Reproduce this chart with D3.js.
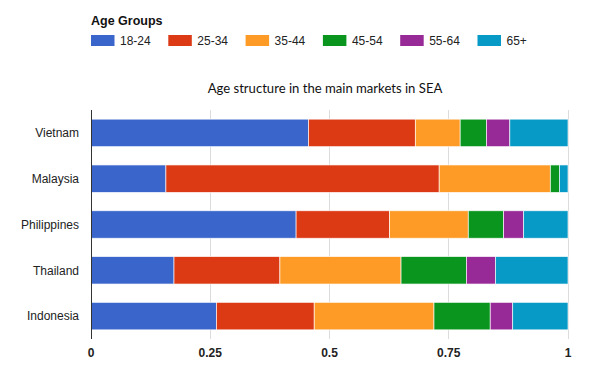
<!DOCTYPE html>
<html><head><meta charset="utf-8">
<script src="https://cdn.jsdelivr.net/npm/d3@7"></script>
<style>body{margin:0;background:#fff}svg{display:block}</style>
</head><body><svg id="c" width="600" height="378"></svg>
<script>
const countries = ["Vietnam","Malaysia","Philippines","Thailand","Indonesia"];
const groups = ["18-24","25-34","35-44","45-54","55-64","65+"];
const colors = ["#3a66cb","#dc3915","#fd9b26","#0a961e","#982a98","#079ac6"];
const v1824 = [0.456,0.157,0.430,0.174,0.263];
const v2534 = [0.224,0.573,0.196,0.222,0.205];
const v3544 = [0.094,0.233,0.165,0.254,0.251];
const v4554 = [0.055,0.019,0.074,0.137,0.118];
const v5564 = [0.049,0.000,0.042,0.061,0.047];
const v65   = [0.122,0.018,0.093,0.152,0.116];
const ticks = [0,0.25,0.5,0.75,1];
const tickLabels = ["0","0.25","0.5","0.75","1"];
const title = "Age structure in the main markets in SEA";
const legendTitle = "Age Groups";

const series = [v1824,v2534,v3544,v4554,v5564,v65];
const rows = countries.map((c,i)=>{const o={country:c};groups.forEach((g,j)=>o[g]=series[j][i]);return o;});
const stacked = d3.stack().keys(groups)(rows);

const svg = d3.select("#c");
const x = d3.scaleLinear().domain([0,1]).range([91,568]);
const y = d3.scaleBand().domain(countries).range([110,339]).paddingInner(0.4).paddingOuter(0.2);

// gridlines
svg.append("g").selectAll("line").data(ticks.slice(1)).join("line")
  .attr("x1",d=>x(d)).attr("x2",d=>x(d)).attr("y1",110).attr("y2",339)
  .attr("stroke","#dcdcdc").attr("stroke-width",1).attr("shape-rendering","crispEdges");

// bars
svg.append("g").selectAll("g").data(stacked).join("g")
  .attr("fill",(d,i)=>colors[i])
  .selectAll("rect").data(d=>d).join("rect")
  .attr("x",d=>x(d[0])).attr("width",d=>Math.max(0,x(d[1])-x(d[0])))
  .attr("y",d=>y(d.data.country)).attr("height",y.bandwidth())
  .attr("stroke","#ffffff").attr("stroke-width",0.8).attr("stroke-opacity",0.8);

// left axis line
svg.append("line").attr("x1",x(0)).attr("x2",x(0)).attr("y1",110).attr("y2",339)
  .attr("stroke","#333").attr("stroke-width",1).attr("shape-rendering","crispEdges");

// y labels
svg.append("g").selectAll("text").data(countries).join("text")
  .attr("x",79).attr("y",d=>y(d)+y.bandwidth()/2).attr("dy","0.35em")
  .attr("text-anchor","end").attr("font-family","'Liberation Sans',Arial,sans-serif")
  .attr("font-size",12).attr("fill","#222").text(d=>d);

// x tick labels
svg.append("g").selectAll("text").data(ticks).join("text")
  .attr("x",d=>x(d)).attr("y",357).attr("text-anchor","middle")
  .attr("font-family","'Liberation Sans',Arial,sans-serif").attr("font-weight","bold")
  .attr("font-size",12).attr("fill","#222").text((d,i)=>tickLabels[i]);

// title
svg.append("text").attr("x",325).attr("y",93).attr("text-anchor","middle")
  .attr("font-family","Lato,'Open Sans',sans-serif").attr("font-size",13.1).attr("fill","#111")
  .text(title);

// legend
svg.append("text").attr("x",91).attr("y",25).attr("font-family","'Liberation Sans',Arial,sans-serif")
  .attr("font-weight","bold").attr("font-size",12.5).attr("fill","#111").text(legendTitle);
const lg = svg.append("g").selectAll("g").data(groups).join("g")
  .attr("transform",(d,i)=>`translate(${91+i*77.3},35)`);
lg.append("rect").attr("width",23.5).attr("height",11).attr("fill",(d,i)=>colors[i]);
lg.append("text").attr("x",29).attr("y",5.5).attr("dy","0.35em")
  .attr("font-family","'Liberation Sans',Arial,sans-serif").attr("font-size",12).attr("fill","#222").text(d=>d);
</script></body></html>
